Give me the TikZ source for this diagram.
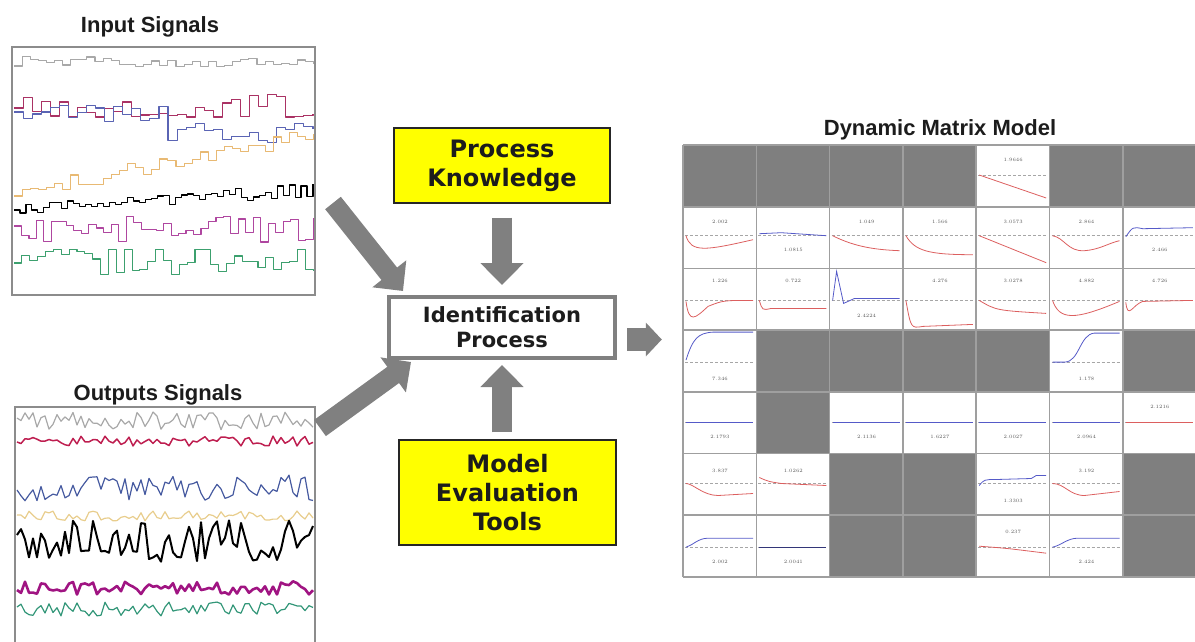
\documentclass[tikz,border=0pt]{standalone}
\usepackage{fontspec}
\newfontfamily\titlefont{Liberation Sans}
\newfontfamily\boxfont{DejaVu Sans}
\usepackage{tikz}
\usetikzlibrary{arrows.meta,calc}

\definecolor{arrowgray}{RGB}{128,128,128}
\definecolor{cellgray}{RGB}{127,127,127}
\definecolor{boxyellow}{RGB}{255,255,0}
\definecolor{textdark}{RGB}{28,28,28}
\definecolor{sgray}{RGB}{168,168,168}
\definecolor{splum}{RGB}{170,50,100}
\definecolor{sblue}{RGB}{90,100,180}
\definecolor{stan}{RGB}{232,185,115}
\definecolor{smagenta}{RGB}{175,70,160}
\definecolor{sgreen}{RGB}{60,160,110}
\definecolor{ocrimson}{RGB}{190,30,80}
\definecolor{oblue}{RGB}{70,90,160}
\definecolor{otan}{RGB}{232,205,140}
\definecolor{opurple}{RGB}{160,20,130}
\definecolor{oteal}{RGB}{50,150,120}
\definecolor{curvered}{RGB}{220,95,95}
\definecolor{curveblue}{RGB}{85,90,200}

\begin{document}
\begin{tikzpicture}[x=1pt,y=-1pt,
  sigtitle/.style={font=\titlefont\bfseries\fontsize{22}{24}\selectfont, text=textdark, anchor=base},
  sigbox/.style={draw=gray!90, line width=1.6pt, inner sep=0pt},
  insig/.style={line width=1.1pt, line join=round},
  outsig/.style={line width=1.2pt, line join=round},
  yellowbox/.style={draw=black!85, line width=1.4pt, fill=boxyellow, text=textdark, align=center,
    font=\boxfont\bfseries\fontsize{24}{29}\selectfont, inner sep=0pt},
  idbox/.style={draw=arrowgray, line width=4pt, fill=white, text=textdark, align=center,
    font=\boxfont\bfseries\fontsize{21}{25}\selectfont, inner sep=0pt},
  bigarrow/.style={draw=arrowgray, line width=20pt, -{Triangle[length=22pt,width=42pt]}},
  sidearrow/.style={draw=arrowgray, line width=23pt, -{Triangle[length=16pt,width=33pt]}},
  gridline/.style={draw=gray!75, line width=1.6pt},
  axisline/.style={draw=gray!70, densely dashed, line width=0.7pt},
  celltext/.style={font=\fontsize{5}{5}\selectfont, text=gray!70!black, inner sep=0pt},
]
\clip (0,0) rectangle (1195,641);

% input signals
\node[sigtitle] (intitle) at (150,32) {Input Signals};
\pgfmathsetseed{11}
\draw[insig, sgray] (14,66) \foreach \i in {1,...,37} { -| ({14+\i*8.1},{67-11*rnd}) };
\draw[insig, splum] (14,108) \foreach \i in {1,...,33} { -| ({14+\i*9.06},{117-23*rnd^2}) };
\draw[insig, sblue] (14,112) \foreach \i in {1,...,33} { -| ({14+\i*9.06},{122-20*rnd+21*(\i>16)}) };
\draw[insig, stan] (14,196) \foreach \i in {1,...,37} { -| ({14+\i*8.1},{201-1.6*\i-16*rnd}) };
\draw[insig, black] (14,210) \foreach \i in {1,...,50} { -| ({14+\i*5.98},{214-0.35*\i-13*rnd}) };
\draw[insig, smagenta] (14,226) \foreach \i in {1,...,40} { -| ({14+\i*7.48},{216+26*rnd}) };
\draw[insig, sgreen] (14,263) \foreach \i in {1,...,38} { -| ({14+\i*7.87},{249+26*rnd}) };
\node[sigbox, minimum width=303pt, minimum height=248pt] (inbox) at (163.5,171) {};

% output signals
\node[sigtitle] (outtitle) at (158,400) {Outputs Signals};
\pgfmathsetseed{5}
\draw[outsig, sgray] (17,418) \foreach \i in {1,...,74} { -- ({17+\i*4},{421+9*rand}) };
\draw[outsig, ocrimson, line width=1.5pt] (17,442) \foreach \i in {1,...,74} { -- ({17+\i*4},{441+5*rand}) };
\draw[outsig, oblue] (17,490) \foreach \i in {1,...,74} { -- ({17+\i*4},{488+13*rand}) };
\draw[outsig, otan] (17,515) \foreach \i in {1,...,74} { -- ({17+\i*4},{516+5*rand}) };
\draw[outsig, black, line width=2pt] (17,535) \foreach \i in {1,...,74} { -- ({17+\i*4},{540+22*rand}) };
\draw[outsig, opurple, line width=2.6pt] (17,590) \foreach \i in {1,...,74} { -- ({17+\i*4},{588+7*rand}) };
\draw[outsig, oteal] (17,607) \foreach \i in {1,...,74} { -- ({17+\i*4},{609+7*rand}) };
\node[sigbox, minimum width=300pt, minimum height=250pt] (outbox) at (165,532) {};

% identification
\node[yellowbox, minimum width=216pt, minimum height=75pt] (pk) at (502,165.5) {Process\\Knowledge};
\node[idbox, minimum width=226pt, minimum height=61pt] (idp) at (502,327.5) {Identification\\Process};
\node[yellowbox, minimum width=217pt, minimum height=105pt] (met) at (507.5,492.5) {Model\\Evaluation\\Tools};

\coordinate (inTail) at (333,203);
\coordinate (outTail) at (320,428);
\coordinate (ipOut) at ($(idp.east)+(10,12)$);
\node[inner sep=0pt, minimum width=513pt, minimum height=432pt] (dmm) at (939.5,361) {};

\draw[bigarrow] ([yshift=-14pt]pk.south) -- ([yshift=10pt]idp.north);
\draw[bigarrow] ($(met.north -| idp.south)+(0,-7)$) -- ([yshift=-5pt]idp.south);
\draw[bigarrow] (inTail) -- ([xshift=16pt,yshift=4pt]idp.north west);
\draw[bigarrow] (outTail) -- ([xshift=24pt,yshift=-2pt]idp.south west);
\draw[sidearrow, shorten >=21pt] (ipOut) -- (ipOut -| dmm.west);

% dynamic matrix model
\node[sigtitle] (dmmtitle) at (940,135) {Dynamic Matrix Model};
\foreach \c/\r in {1/1,2/1,3/1,4/1,6/1,7/1,2/4,3/4,4/4,5/4,7/4,2/5,3/6,4/6,7/6,3/7,4/7,7/7}
  \fill[cellgray] ({683+(\c-1)*73.3},{145+(\r-1)*61.7}) rectangle ++(73.3,61.7);
\foreach \c/\r/\ay/\ly/\lab/\col/\crv in {
  5/1/30/15/1.9646/curvered/{(3,30) -- (70,53)},
  1/2/29/15/2.002/curvered/{(3,29) .. controls (8,46) and (22,44) .. (70,33)},
  2/2/29/43/1.0815/curveblue/{(3,27) -- (25,26) -- (70,29)},
  3/2/29/15/1.049/curvered/{(3,29) .. controls (25,40) and (45,43) .. (70,44)},
  4/2/29/15/1.566/curvered/{(3,29) .. controls (12,44) and (25,48) .. (70,48)},
  5/2/29/15/3.0573/curvered/{(3,29) -- (70,56)},
  6/2/29/15/2.864/curvered/{(3,29) .. controls (15,31) and (18,45) .. (35,44) .. controls (50,43) and (60,36) .. (70,34)},
  7/2/29/43/2.466/curveblue/{(3,30) .. controls (10,20) .. (20,22) -- (70,21)},
  1/3/32/12/1.226/curvered/{(3,33) .. controls (6,56) and (12,50) .. (25,38) .. controls (40,32) .. (70,32)},
  2/3/32/12/0.722/curvered/{(3,32) .. controls (6,42) .. (15,40) -- (70,40)},
  3/3/32/47/2.4224/curveblue/{(3,32) -- (7,3) -- (14,35) -- (25,30) -- (70,30)},
  4/3/32/12/4.276/curvered/{(3,32) .. controls (8,60) .. (20,58) -- (70,56)},
  5/3/32/12/3.0278/curvered/{(3,32) .. controls (20,42) .. (70,45)},
  6/3/32/12/4.882/curvered/{(3,32) .. controls (10,52) and (25,52) .. (70,33)},
  7/3/32/12/4.726/curvered/{(3,34) .. controls (5,52) and (10,36) .. (20,33) -- (70,32)},
  1/4/32/49/7.346/curveblue/{(3,30) .. controls (10,8) and (15,3) .. (30,2) -- (70,2)},
  6/4/32/49/1.178/curveblue/{(3,32) -- (15,32) .. controls (30,32) and (30,4) .. (45,3) -- (70,3)},
  1/5/31/45/2.1793/curveblue/{(3,31) -- (70,31)},
  3/5/31/45/2.1136/curveblue/{(3,31) -- (70,31)},
  4/5/31/45/1.6227/curveblue/{(3,31) -- (70,31)},
  5/5/31/45/2.0027/curveblue/{(3,31) -- (70,31)},
  6/5/31/45/2.0964/curveblue/{(3,31) -- (70,31)},
  7/5/31/15/2.1216/curvered/{(3,31) -- (70,31)},
  1/6/30/17/3.837/curvered/{(3,30) .. controls (10,30) and (20,42) .. (35,42) -- (70,40)},
  2/6/30/17/1.0262/curvered/{(3,24) .. controls (12,28) .. (25,30) -- (70,32)},
  5/6/30/47/1.3303/curveblue/{(3,32) .. controls (8,26) .. (20,26) -- (55,25) -- (60,22) -- (70,22)},
  6/6/30/17/3.192/curvered/{(3,30) .. controls (15,30) and (20,42) .. (35,42) -- (70,38)},
  1/7/32/47/2.002/curveblue/{(3,32) .. controls (10,30) and (15,23) .. (25,23) -- (70,23)},
  2/7/32/47/2.0041/curveblue!60!black/{(3,32) -- (70,32)},
  5/7/32/17/0.237/curvered/{(3,31) .. controls (30,33) .. (70,38)},
  6/7/32/47/2.424/curveblue/{(3,32) .. controls (12,30) and (18,23) .. (28,23) -- (70,23)}}
{
\begin{scope}[shift={({683+(\c-1)*73.3},{145+(\r-1)*61.7})}]
  \draw[axisline] (2,\ay) -- (71,\ay);
  \draw[\col, line width=0.8pt] \crv;
  \node[celltext] at (37,\ly) {\lab};
\end{scope}
}
\foreach \i in {0,...,7} {
  \draw[gridline] ({683+\i*73.3},145) -- ++(0,431.9);
  \draw[gridline] (683,{145+\i*61.7}) -- ++(513.1,0);
}
\end{tikzpicture}
\end{document}
